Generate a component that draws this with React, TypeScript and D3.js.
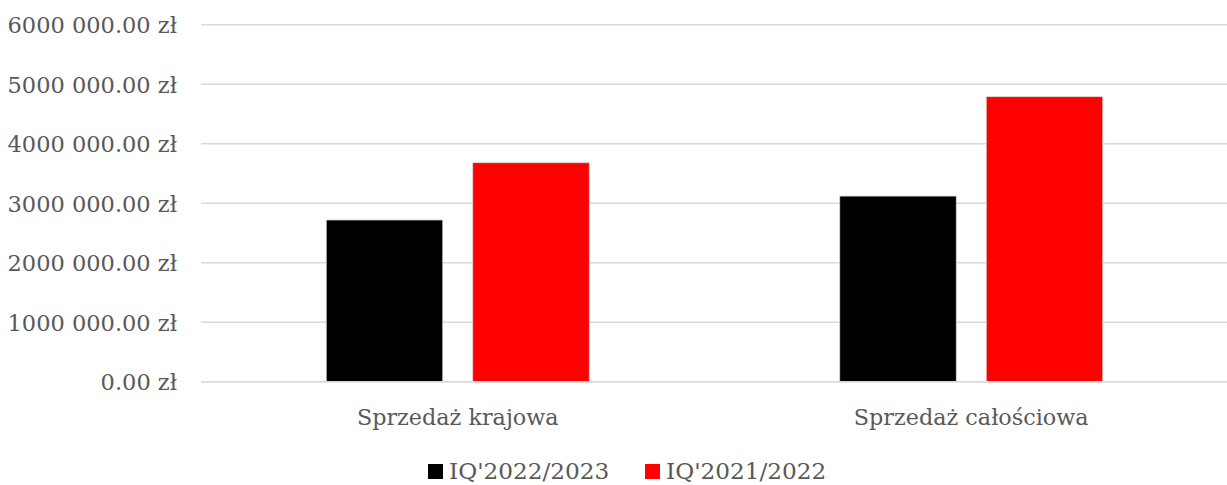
import React, { useEffect, useRef } from 'react';
import * as d3 from 'd3';

const categories = ['Sprzedaż krajowa', 'Sprzedaż całościowa'];
const seriesNames = ["IQ'2022/2023", "IQ'2021/2022"];
const seriesColors = ['#000000', '#ff0000'];
const values2223 = [2718000, 3120000];
const values2122 = [3680000, 4790000];
const yTicks = [0, 1000000, 2000000, 3000000, 4000000, 5000000, 6000000];

const W = 1227;
const H = 485;
const FONT = '"DejaVu Serif", serif';
const TEXT = '#595959';

const App: React.FC = () => {
  const ref = useRef<SVGSVGElement>(null);

  useEffect(() => {
    if (!ref.current) return;
    const svg = d3.select(ref.current);
    svg.selectAll('*').remove();

    const x0 = d3.scaleBand<string>().domain(categories).range([201, 1228]);
    const y = d3.scaleLinear().domain([0, 6000000]).range([381.7, 24.7]);
    const bandW = x0.bandwidth();
    const barW = 116.5;
    const gap = 30;

    // gridlines
    svg.append('g')
      .selectAll('line')
      .data(yTicks)
      .join('line')
      .attr('x1', 201)
      .attr('x2', 1227)
      .attr('y1', (d) => y(d))
      .attr('y2', (d) => y(d))
      .attr('stroke', '#d9d9d9')
      .attr('stroke-width', 1.5);

    // y labels
    svg.append('g')
      .selectAll('text')
      .data(yTicks)
      .join('text')
      .attr('x', 177)
      .attr('y', (d) => y(d) + 8.5)
      .attr('text-anchor', 'end')
      .attr('font-family', FONT)
      .attr('font-size', 22.5)
      .attr('fill', TEXT)
      .text((d) => (d === 0 ? '0.00 zł' : `${d / 1000000}000 000.00 zł`));

    const series = [values2223, values2122];
    series.forEach((vals, si) => {
      svg.append('g')
        .selectAll('rect')
        .data(vals)
        .join('rect')
        .attr('x', (_, i) => {
          const c = (x0(categories[i]) ?? 0) + bandW / 2;
          return si === 0 ? c - gap / 2 - barW : c + gap / 2;
        })
        .attr('y', (d) => y(d))
        .attr('width', barW)
        .attr('height', (d) => y(0) - y(d))
        .attr('fill', seriesColors[si])
        .attr('stroke', '#d9d9d9')
        .attr('stroke-width', 0.75);
    });

    // baseline over bars
    svg.append('line')
      .attr('x1', 201).attr('x2', 1227)
      .attr('y1', y(0)).attr('y2', y(0))
      .attr('stroke', '#d9d9d9').attr('stroke-width', 1.5);

    // category labels
    svg.append('g')
      .selectAll('text')
      .data(categories)
      .join('text')
      .attr('x', (d) => (x0(d) ?? 0) + bandW / 2)
      .attr('y', 425)
      .attr('text-anchor', 'middle')
      .attr('font-family', FONT)
      .attr('font-size', 22.3)
      .attr('fill', TEXT)
      .text((d) => d);

    // legend
    const legendX = [428, 645];
    const lg = svg.append('g');
    seriesNames.forEach((name, i) => {
      lg.append('rect')
        .attr('x', legendX[i]).attr('y', 464)
        .attr('width', 15).attr('height', 15)
        .attr('fill', seriesColors[i]);
      lg.append('text')
        .attr('x', legendX[i] + 21).attr('y', 479)
        .attr('font-family', FONT)
        .attr('font-size', 23.2)
        .attr('fill', TEXT)
        .text(name);
    });
  }, []);

  return (
    <svg
      ref={ref}
      width={W}
      height={H}
      style={{ position: 'absolute', left: 0, top: 0, background: '#fff' }}
    />
  );
};

export default App;
